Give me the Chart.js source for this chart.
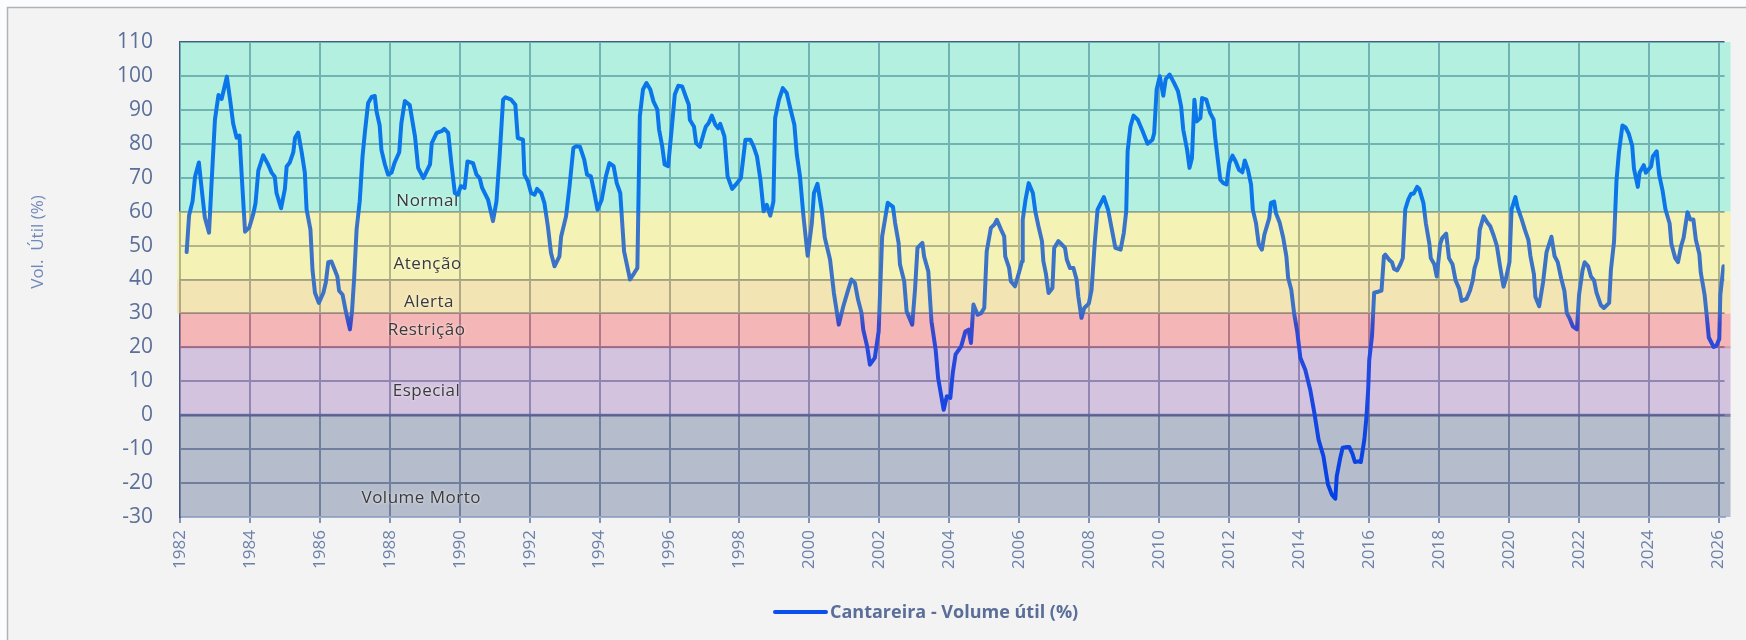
<!DOCTYPE html>
<html>
<head>
<meta charset="utf-8">
<script src="https://cdn.jsdelivr.net/npm/chart.js@4.4.1/dist/chart.umd.min.js"></script>
<style>
  html, body { margin: 0; padding: 0; background: #fbfcfd; }
  #wrap { position: absolute; left: 0; top: 0; width: 1746px; height: 640px; }
</style>
</head>
<body>
<div id="wrap"><canvas id="chart" width="1746" height="640"></canvas></div>
<script>
// Cantareira - volume util (%) (ano decimal / valor)
const anos = [
  1982.19, 1982.26, 1982.36, 1982.43, 1982.54, 1982.62, 1982.71, 1982.83, 1982.90, 1983.00,
  1983.10, 1983.19, 1983.26, 1983.34, 1983.43, 1983.52, 1983.62, 1983.70, 1983.76, 1983.86,
  1983.98, 1984.10, 1984.16, 1984.24, 1984.38, 1984.52, 1984.62, 1984.71, 1984.76, 1984.89,
  1985.00, 1985.05, 1985.14, 1985.24, 1985.29, 1985.38, 1985.48, 1985.57, 1985.62, 1985.73,
  1985.79, 1985.86, 1985.97, 1986.10, 1986.17, 1986.24, 1986.33, 1986.43, 1986.50, 1986.55,
  1986.65, 1986.74, 1986.86, 1986.92, 1986.98, 1987.05, 1987.14, 1987.22, 1987.29, 1987.38,
  1987.48, 1987.57, 1987.62, 1987.71, 1987.76, 1987.86, 1987.95, 1988.05, 1988.14, 1988.27,
  1988.33, 1988.43, 1988.57, 1988.72, 1988.81, 1988.96, 1989.15, 1989.20, 1989.34, 1989.48,
  1989.56, 1989.67, 1989.76, 1989.86, 1989.95, 1990.03, 1990.14, 1990.22, 1990.38, 1990.48,
  1990.57, 1990.64, 1990.81, 1990.95, 1991.05, 1991.14, 1991.24, 1991.31, 1991.47, 1991.59,
  1991.66, 1991.81, 1991.85, 1991.95, 1992.04, 1992.14, 1992.21, 1992.33, 1992.42, 1992.52,
  1992.61, 1992.71, 1992.85, 1992.90, 1993.04, 1993.14, 1993.25, 1993.33, 1993.44, 1993.56,
  1993.64, 1993.75, 1993.85, 1993.94, 1994.06, 1994.18, 1994.28, 1994.40, 1994.49, 1994.59,
  1994.70, 1994.87, 1994.99, 1995.08, 1995.15, 1995.24, 1995.34, 1995.45, 1995.54, 1995.65,
  1995.70, 1995.79, 1995.86, 1995.96, 1996.06, 1996.15, 1996.25, 1996.36, 1996.46, 1996.55,
  1996.58, 1996.70, 1996.76, 1996.87, 1996.98, 1997.04, 1997.12, 1997.21, 1997.31, 1997.39,
  1997.45, 1997.57, 1997.66, 1997.79, 1997.93, 1998.04, 1998.17, 1998.31, 1998.40, 1998.50,
  1998.60, 1998.69, 1998.78, 1998.88, 1998.97, 1999.02, 1999.13, 1999.24, 1999.35, 1999.44,
  1999.57, 1999.64, 1999.73, 1999.83, 1999.95, 2000.07, 2000.13, 2000.23, 2000.35, 2000.44,
  2000.59, 2000.70, 2000.84, 2000.97, 2001.11, 2001.20, 2001.30, 2001.39, 2001.49, 2001.54,
  2001.65, 2001.73, 2001.87, 2001.98, 2002.08, 2002.24, 2002.39, 2002.45, 2002.55, 2002.59,
  2002.71, 2002.78, 2002.94, 2003.02, 2003.09, 2003.23, 2003.28, 2003.40, 2003.49, 2003.61,
  2003.68, 2003.84, 2003.93, 2004.03, 2004.10, 2004.18, 2004.34, 2004.46, 2004.55, 2004.62,
  2004.69, 2004.81, 2004.91, 2005.00, 2005.07, 2005.19, 2005.29, 2005.36, 2005.48, 2005.57,
  2005.60, 2005.71, 2005.76, 2005.88, 2005.99, 2006.08, 2006.10, 2006.18, 2006.27, 2006.39,
  2006.46, 2006.55, 2006.65, 2006.69, 2006.76, 2006.84, 2006.95, 2007.00, 2007.12, 2007.22,
  2007.31, 2007.36, 2007.45, 2007.55, 2007.64, 2007.69, 2007.78, 2007.86, 2007.99, 2008.07,
  2008.16, 2008.24, 2008.42, 2008.54, 2008.65, 2008.75, 2008.90, 2008.99, 2009.06, 2009.10,
  2009.18, 2009.27, 2009.39, 2009.53, 2009.67, 2009.81, 2009.86, 2009.93, 2010.02, 2010.12,
  2010.19, 2010.30, 2010.42, 2010.54, 2010.63, 2010.69, 2010.80, 2010.87, 2010.94, 2011.01,
  2011.07, 2011.18, 2011.23, 2011.35, 2011.46, 2011.56, 2011.60, 2011.68, 2011.75, 2011.84,
  2011.93, 2012.01, 2012.10, 2012.19, 2012.28, 2012.38, 2012.45, 2012.54, 2012.63, 2012.68,
  2012.77, 2012.85, 2012.94, 2013.01, 2013.15, 2013.20, 2013.29, 2013.34, 2013.45, 2013.55,
  2013.64, 2013.69, 2013.78, 2013.86, 2013.95, 2014.04, 2014.18, 2014.32, 2014.44, 2014.56,
  2014.70, 2014.79, 2014.83, 2014.94, 2015.04, 2015.08, 2015.18, 2015.25, 2015.34, 2015.44,
  2015.53, 2015.60, 2015.70, 2015.77, 2015.87, 2015.93, 2015.98, 2016.01, 2016.09, 2016.15,
  2016.26, 2016.36, 2016.43, 2016.47, 2016.59, 2016.66, 2016.72, 2016.81, 2016.90, 2016.97,
  2017.04, 2017.13, 2017.21, 2017.28, 2017.38, 2017.44, 2017.56, 2017.63, 2017.73, 2017.77,
  2017.87, 2017.94, 2018.04, 2018.10, 2018.21, 2018.29, 2018.39, 2018.48, 2018.58, 2018.65,
  2018.79, 2018.89, 2018.97, 2019.02, 2019.11, 2019.17, 2019.28, 2019.38, 2019.47, 2019.57,
  2019.66, 2019.75, 2019.85, 2019.92, 2020.02, 2020.08, 2020.19, 2020.25, 2020.37, 2020.46,
  2020.56, 2020.62, 2020.72, 2020.76, 2020.87, 2020.98, 2021.08, 2021.22, 2021.31, 2021.40,
  2021.50, 2021.59, 2021.66, 2021.75, 2021.83, 2021.95, 2022.01, 2022.11, 2022.17, 2022.27,
  2022.35, 2022.44, 2022.51, 2022.63, 2022.72, 2022.87, 2022.92, 2023.01, 2023.08, 2023.15,
  2023.25, 2023.34, 2023.43, 2023.53, 2023.58, 2023.69, 2023.74, 2023.86, 2023.92, 2024.07,
  2024.12, 2024.23, 2024.30, 2024.40, 2024.48, 2024.60, 2024.65, 2024.76, 2024.84, 2024.93,
  2025.00, 2025.11, 2025.19, 2025.28, 2025.35, 2025.45, 2025.49, 2025.60, 2025.66, 2025.72,
  2025.86, 2025.94, 2026.02, 2026.05, 2026.14
];

const volume = [
  48.1, 58.9, 63.1, 70.3, 74.5, 66.7, 58.3, 53.8, 67.9, 87.2,
  94.4, 93.2, 96.2, 99.8, 93.2, 86.0, 81.8, 82.4, 71.5, 54.1,
  55.3, 59.5, 62.5, 72.1, 76.6, 73.9, 71.5, 70.3, 65.5, 61.0,
  66.7, 73.3, 74.5, 77.5, 81.8, 83.3, 77.5, 71.5, 60.7, 54.7,
  42.7, 36.1, 33.1, 36.1, 39.1, 45.1, 45.3, 42.7, 40.9, 36.7,
  35.5, 30.7, 25.3, 30.7, 40.3, 54.7, 63.1, 76.3, 83.6, 92.0,
  93.8, 94.1, 89.6, 85.4, 78.2, 73.9, 70.9, 71.5, 74.5, 77.5,
  86.0, 92.6, 91.4, 82.2, 72.9, 69.9, 73.9, 80.2, 83.2, 83.7,
  84.4, 83.2, 74.3, 65.5, 65.0, 67.5, 67.0, 74.8, 74.3, 70.9,
  69.9, 67.0, 63.5, 57.2, 63.0, 76.3, 93.0, 93.7, 93.0, 91.5,
  81.7, 81.2, 70.9, 68.9, 65.5, 65.0, 66.7, 65.5, 62.6, 55.7,
  47.8, 43.9, 46.8, 52.7, 58.6, 67.5, 78.8, 79.3, 79.1, 75.3,
  70.9, 70.4, 65.5, 60.6, 63.5, 70.4, 74.3, 73.4, 68.4, 65.5,
  48.3, 40.0, 41.9, 43.4, 88.1, 96.0, 97.9, 96.0, 92.5, 90.1,
  84.2, 79.3, 73.9, 73.4, 84.2, 94.5, 97.1, 96.9, 94.0, 91.5,
  87.1, 85.0, 80.2, 79.1, 83.2, 85.1, 86.1, 88.3, 85.6, 84.6,
  85.9, 82.2, 70.4, 66.7, 68.4, 69.9, 81.2, 81.2, 79.3, 76.3,
  69.4, 60.1, 62.0, 58.8, 63.0, 87.6, 93.0, 96.4, 95.0, 91.0,
  85.6, 76.8, 70.4, 58.6, 47.0, 56.7, 65.5, 68.2, 60.6, 52.3,
  45.9, 36.0, 26.7, 32.1, 37.0, 40.0, 39.0, 34.1, 30.1, 25.2,
  20.3, 14.9, 16.9, 24.7, 52.7, 62.6, 61.4, 56.7, 50.8, 44.4,
  39.5, 30.6, 26.7, 37.0, 49.3, 50.8, 46.8, 42.4, 27.7, 19.3,
  11.0, 1.6, 5.6, 5.1, 12.5, 17.9, 20.3, 24.7, 25.2, 21.3,
  32.6, 29.6, 30.1, 31.6, 48.3, 55.2, 56.2, 57.6, 54.7, 52.7,
  46.8, 43.4, 39.5, 38.0, 41.9, 45.4, 57.6, 63.5, 68.4, 65.5,
  60.1, 55.7, 51.3, 45.4, 41.9, 36.0, 37.5, 49.3, 51.3, 50.3,
  49.3, 45.9, 43.4, 43.4, 40.0, 35.0, 28.7, 31.6, 32.9, 37.0,
  50.8, 60.6, 64.3, 60.6, 54.7, 49.3, 48.8, 53.7, 60.1, 77.8,
  85.1, 88.3, 87.1, 83.7, 80.0, 81.2, 83.2, 96.0, 99.9, 94.2,
  99.1, 100.4, 98.1, 95.5, 91.0, 84.2, 78.3, 72.9, 75.8, 93.0,
  86.6, 87.6, 93.5, 93.0, 89.1, 87.1, 82.2, 75.3, 69.4, 68.4,
  68.0, 74.3, 76.5, 74.8, 72.4, 71.6, 75.1, 72.4, 68.0, 60.6,
  56.7, 50.3, 48.8, 53.2, 58.1, 62.6, 63.0, 59.6, 56.7, 52.3,
  46.8, 40.5, 37.0, 30.1, 24.7, 16.9, 13.4, 7.6, 0.7, -7.2,
  -12.1, -18.0, -20.4, -23.4, -24.6, -18.0, -12.6, -9.6, -9.4, -9.4,
  -11.4, -13.8, -13.6, -13.8, -7.2, -0.6, 7.8, 16.3, 23.5, 36.1,
  36.4, 36.7, 46.9, 47.3, 45.7, 45.1, 43.1, 42.7, 44.5, 46.3,
  60.7, 63.7, 65.3, 65.3, 67.3, 66.7, 62.5, 56.5, 50.5, 46.3,
  44.5, 40.9, 50.5, 52.3, 53.5, 46.3, 44.5, 39.7, 37.3, 33.7,
  34.3, 36.7, 39.7, 43.3, 46.3, 54.7, 58.6, 56.9, 55.7, 52.9,
  49.9, 43.9, 37.9, 40.3, 45.1, 60.7, 64.3, 61.3, 57.7, 54.7,
  51.7, 46.9, 41.5, 34.9, 32.1, 39.1, 48.1, 52.6, 46.9, 45.1,
  40.3, 36.7, 30.1, 28.3, 26.2, 25.3, 35.5, 42.7, 45.1, 43.9,
  40.9, 39.7, 36.1, 32.5, 31.6, 33.1, 42.7, 51.1, 69.1, 77.5,
  85.4, 84.8, 83.0, 79.4, 72.7, 67.3, 71.5, 73.7, 71.5, 73.3,
  76.3, 77.8, 70.9, 66.1, 60.7, 56.5, 50.5, 46.3, 45.1, 49.9,
  52.3, 59.8, 57.7, 57.7, 51.7, 47.5, 42.1, 35.5, 29.5, 22.9,
  20.1, 20.5, 22.5, 35.5, 43.9
];

// rotulos do eixo X (anos)
const rotulosAnos = [1982, 1984, 1986, 1988, 1990, 1992, 1994, 1996, 1998, 2000, 2002,
  2004, 2006, 2008, 2010, 2012, 2014, 2016, 2018, 2020, 2022, 2024, 2026];

// faixas de operacao (limites em % do volume util)
const faixasNome = ['Normal', 'Atenção', 'Alerta', 'Restrição', 'Especial', 'Volume Morto'];
const faixasDe   = [60, 40, 30, 20, 0, -30];
const faixasAte  = [110, 60, 40, 30, 20, 0];

const FONTE = '"Open Sans", "Noto Sans", sans-serif';

// cores das faixas (desenhadas por cima da grade com transparencia)
const coresFaixas = [
  'rgba(136,238,211,0.6)',
  'rgba(246,241,140,0.6)',
  'rgba(243,220,136,0.6)',
  'rgba(245,141,141,0.6)',
  'rgba(190,163,208,0.6)',
  'rgba(140,151,176,0.6)'
];
// posicao dos nomes das faixas (ano, valor)
const posNomes = [
  [1989.08, 63.1], [1989.08, 44.5], [1989.12, 33.3],
  [1989.05, 25.1], [1989.05, 7.1], [1988.9, -24.3]
];

// gradiente da linha conforme o valor
function gradienteLinha(context) {
  const chart = context.chart;
  const {ctx, chartArea, scales} = chart;
  if (!chartArea) return '#0a76ea';
  const y = scales.y;
  const topo = y.getPixelForValue(110);
  const base = y.getPixelForValue(-30);
  const g = ctx.createLinearGradient(0, topo, 0, base);
  const paradas = [
    [110, '#0a76ea'], [61, '#0a76ea'], [58, '#3b74c8'], [31, '#3c72c6'],
    [27, '#3a48c8'], [21, '#2a4adc'], [0, '#1446e4'], [-30, '#0040e4']
  ];
  paradas.forEach(p => {
    g.addColorStop((y.getPixelForValue(p[0]) - topo) / (base - topo), p[1]);
  });
  return g;
}

// fundo e moldura
const fundoPlugin = {
  id: 'fundo',
  beforeDraw(chart) {
    const ctx = chart.ctx;
    ctx.save();
    ctx.fillStyle = '#fbfcfd';
    ctx.fillRect(0, 0, chart.width, chart.height);
    ctx.fillStyle = '#f3f3f3';
    ctx.fillRect(7, 7, chart.width - 7, chart.height - 7);
    ctx.strokeStyle = '#b2b2b2';
    ctx.lineWidth = 1.5;
    ctx.beginPath();
    ctx.moveTo(7.5, chart.height);
    ctx.lineTo(7.5, 7.5);
    ctx.lineTo(chart.width, 7.5);
    ctx.stroke();
    ctx.restore();
  }
};

// faixas coloridas + nomes
const faixasPlugin = {
  id: 'faixas',
  beforeDatasetsDraw(chart) {
    const {ctx, chartArea, scales} = chart;
    const x = scales.x, y = scales.y;
    ctx.save();
    faixasNome.forEach((nome, i) => {
      const y1 = y.getPixelForValue(faixasAte[i]);
      const y2 = y.getPixelForValue(faixasDe[i]);
      const ext = (i === 1 || i === 2) ? 3 : 0;
      ctx.fillStyle = coresFaixas[i];
      ctx.fillRect(chartArea.left - ext, y1, chartArea.right - chartArea.left + 6 + ext, y2 - y1);
    });
    // linhas de limite em 20 e 0
    ctx.lineWidth = 2;
    ctx.strokeStyle = 'rgba(170,80,115,0.35)';
    let yy = y.getPixelForValue(20);
    ctx.beginPath(); ctx.moveTo(chartArea.left, yy); ctx.lineTo(chartArea.right + 6, yy); ctx.stroke();
    ctx.lineWidth = 3;
    ctx.strokeStyle = 'rgba(70,78,135,0.55)';
    yy = y.getPixelForValue(0);
    ctx.beginPath(); ctx.moveTo(chartArea.left, yy); ctx.lineTo(chartArea.right + 6, yy); ctx.stroke();

    ctx.font = '17px ' + FONTE;
    ctx.letterSpacing = '0.5px';
    ctx.textAlign = 'center';
    ctx.textBaseline = 'middle';
    ctx.shadowColor = 'rgba(255,255,255,0.9)';
    ctx.shadowBlur = 3;
    ctx.fillStyle = '#3a3a3a';
    faixasNome.forEach((nome, i) => {
      ctx.fillText(nome, x.getPixelForValue(posNomes[i][0]), y.getPixelForValue(posNomes[i][1]));
    });
    ctx.restore();
  },
  afterDraw(chart) {
    const ctx = chart.ctx;
    ctx.save();
    // titulo do eixo Y
    ctx.translate(38, 242);
    ctx.rotate(-Math.PI / 2);
    ctx.font = '17px ' + FONTE;
    ctx.fillStyle = '#7189b9';
    ctx.textAlign = 'center';
    ctx.textBaseline = 'middle';
    ctx.fillText('Vol.  Útil (%)', 0, 0);
    ctx.restore();

    // legenda
    ctx.save();
    ctx.strokeStyle = '#0a50f0';
    ctx.lineWidth = 4;
    ctx.lineCap = 'round';
    ctx.beginPath();
    ctx.moveTo(775, 612);
    ctx.lineTo(826, 612);
    ctx.stroke();
    ctx.font = 'bold 18px ' + FONTE;
    ctx.fillStyle = '#5a6e98';
    ctx.textAlign = 'left';
    ctx.textBaseline = 'middle';
    ctx.fillText(chart.data.datasets[0].label, 830, 613);
    ctx.restore();
  }
};

const corGrade = 'rgb(73,90,130)';

new Chart(document.getElementById('chart'), {
  type: 'line',
  data: {
    datasets: [{
      label: 'Cantareira - Volume útil (%)',
      data: anos.map((a, i) => ({x: a, y: volume[i]})),
      borderColor: gradienteLinha,
      borderWidth: 4,
      borderJoinStyle: 'round',
      borderCapStyle: 'round',
      pointRadius: 0,
      tension: 0,
      fill: false
    }]
  },
  options: {
    responsive: false,
    animation: false,
    layout: { padding: { left: 0, top: 42, right: 6, bottom: 0 } },
    plugins: {
      legend: { display: false },
      tooltip: { enabled: false }
    },
    scales: {
      x: {
        type: 'linear',
        min: 1982,
        max: 2026.17,
        afterBuildTicks: s => { s.ticks = rotulosAnos.map(v => ({value: v})); },
        afterFit: s => { s.height = 123; },
        ticks: {
          autoSkip: false,
          minRotation: 90,
          maxRotation: 90,
          padding: 7,
          color: '#6c81a9',
          font: { family: FONTE, size: 17 },
          callback: v => String(v)
        },
        grid: { color: corGrade, lineWidth: 2, tickLength: 6, tickColor: '#8193b9', drawTicks: true },
        border: { display: true, color: '#9fb0cf', width: 2 }
      },
      y: {
        min: -30,
        max: 110,
        afterFit: s => { s.width = 180; },
        ticks: {
          stepSize: 10,
          padding: 27,
          color: '#5b6f99',
          font: { family: FONTE, size: 21 }
        },
        grid: { color: corGrade, lineWidth: 2, drawTicks: false },
        border: { display: true, color: corGrade, width: 2 }
      }
    }
  },
  plugins: [fundoPlugin, faixasPlugin]
});
</script>
</body>
</html>
